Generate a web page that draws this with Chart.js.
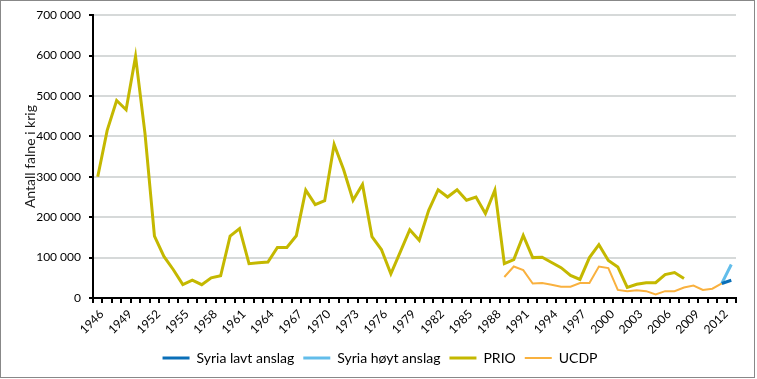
<!DOCTYPE html>
<html>
<head>
<meta charset="utf-8">
<script src="https://cdn.jsdelivr.net/npm/chart.js@4/dist/chart.umd.min.js"></script>
<style>
  html, body { margin: 0; padding: 0; background: #ffffff; }
  canvas { display: block; }
</style>
</head>
<body>
<canvas id="c" width="757" height="379"></canvas>
<script>
// ---- Data ----
const years = [];
for (let y = 1946; y <= 2013; y++) years.push(String(y));

const prio = [
  300000, 415000, 489000, 466000, 598000, 407000, 153000, 103000, 70000, 33000,
  44000, 33000, 50000, 55000, 153000, 172000, 85000, 87000, 89000, 125000,
  125000, 154000, 267000, 231000, 241000, 380000, 318000, 242000, 281000, 152000,
  120000, 60000, 114000, 169000, 143000, 217000, 268000, 250000, 268000, 242000,
  250000, 209000, 267000, 85000, 95000, 155000, 100000, 101000, 88000, 75000,
  56000, 46000, 100000, 132000, 93000, 77000, 26000, 34000, 38000, 38000,
  58000, 63000, 48000,
  null, null, null, null, null
];

const ucdpStart = 1989;
const ucdpValues = [
  52000, 78000, 69000, 36000, 37000, 33000, 28000, 28000, 37000, 37000,
  78000, 74000, 20000, 17000, 19000, 17000, 9000, 17000, 17000, 26000,
  31000, 20000, 23000, 36000
];

const syriaStart = 2012;
const syriaLow = [36000, 44000];
const syriaHigh = [36000, 83000];

const yTicks = [0, 100000, 200000, 300000, 400000, 500000, 600000, 700000];
const seriesNames = ['Syria lavt anslag', 'Syria høyt anslag', 'PRIO', 'UCDP'];

// place a partial series on the full year axis
function placeSeries(startYear, values) {
  return years.map(y => {
    const i = Number(y) - startYear;
    return (i >= 0 && i < values.length) ? values[i] : null;
  });
}

const ucdp = placeSeries(ucdpStart, ucdpValues);
const low = placeSeries(syriaStart, syriaLow);
const high = placeSeries(syriaStart, syriaHigh);

const FONT = 'Lato';

const framePlugin = {
  id: 'frame',
  afterLayout(chart) {
    // centre the legend row under the whole picture, as in the reference
    const lg = chart.legend;
    if (lg) { lg.left += 12; lg.right += 12; }
  },
  afterDraw(chart) {
    const ctx = chart.ctx;
    ctx.save();
    ctx.strokeStyle = '#888888';
    ctx.lineWidth = 1;
    ctx.strokeRect(0.5, 0.5, 754, 377);
    ctx.restore();
  }
};

new Chart(document.getElementById('c'), {
  type: 'line',
  data: {
    labels: years,
    datasets: [
      { label: seriesNames[0], data: low, borderColor: '#0a6fb8', backgroundColor: '#0a6fb8', borderWidth: 3 },
      { label: seriesNames[1], data: high, borderColor: '#62bdea', backgroundColor: '#62bdea', borderWidth: 3 },
      { label: seriesNames[2], data: prio, borderColor: '#c4b800', backgroundColor: '#c4b800', borderWidth: 3 },
      { label: seriesNames[3], data: ucdp, borderColor: '#f9b13f', backgroundColor: '#f9b13f', borderWidth: 2 }
    ]
  },
  options: {
    responsive: false,
    animation: false,
    devicePixelRatio: 1,
    spanGaps: false,
    elements: {
      point: { radius: 0, hoverRadius: 0 },
      line: { tension: 0, borderCapStyle: 'butt', borderJoinStyle: 'miter' }
    },
    layout: { padding: { left: 0, right: 21, top: 15, bottom: 4 } },
    plugins: {
      legend: {
        position: 'bottom',
        labels: {
          usePointStyle: true,
          pointStyle: 'line',
          pointStyleWidth: 27,
          boxHeight: 14,
          padding: 9,
          color: '#000000',
          font: { family: FONT, size: 14 }
        }
      },
      tooltip: { enabled: false }
    },
    scales: {
      x: {
        type: 'category',
        offset: true,
        afterFit(scale) { scale.height = 44; },
        grid: {
          offset: true,
          drawOnChartArea: false,
          drawTicks: true,
          tickLength: 5,
          tickColor: '#000000',
          lineWidth: 2
        },
        border: { display: true, color: '#000000', width: 2 },
        ticks: {
          autoSkip: false,
          maxRotation: 45,
          minRotation: 45,
          padding: 4,
          labelOffset: 4,
          color: '#000000',
          font: { family: FONT, size: 12 },
          callback(val, i) { return i % 3 === 0 ? years[i] : ''; }
        }
      },
      y: {
        min: 0,
        max: 700000,
        afterFit(scale) { scale.width = 93; },
        afterBuildTicks(scale) { scale.ticks = yTicks.map(v => ({ value: v })); },
        grid: {
          color: '#d6d9d9',
          lineWidth: 2,
          drawTicks: true,
          tickLength: 4,
          tickColor: '#000000'
        },
        border: { display: true, color: '#000000', width: 2 },
        ticks: {
          padding: 8,
          color: '#000000',
          font: { family: FONT, size: 12 },
          callback(v) { return v === 0 ? '0' : (v / 1000) + ' 000'; }
        },
        title: {
          display: true,
          text: 'Antall falne i krig',
          color: '#1a1a1a',
          font: { family: FONT, size: 14 },
          padding: { top: 22, bottom: 0 }
        }
      }
    }
  },
  plugins: [framePlugin]
});
</script>
</body>
</html>
